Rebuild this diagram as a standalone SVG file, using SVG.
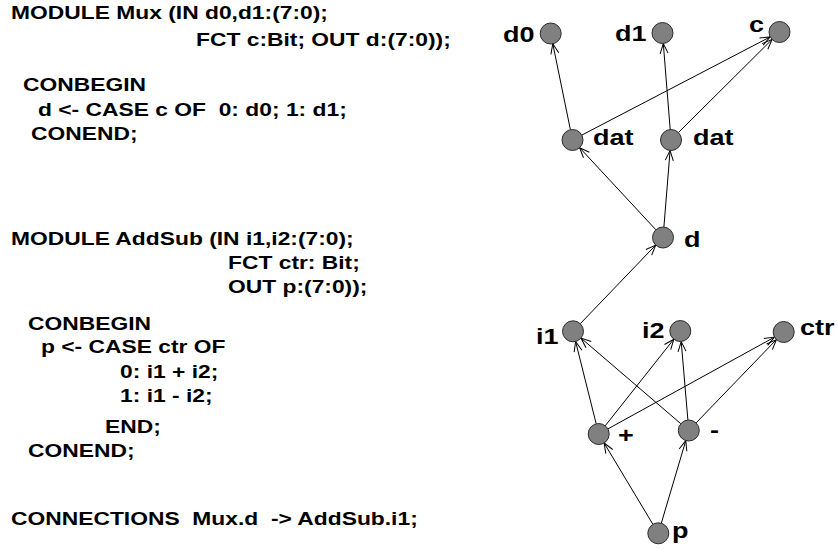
<svg xmlns="http://www.w3.org/2000/svg" width="838" height="550" viewBox="0 0 838 550">
  <style>
    .code { font-family: "Liberation Sans", Arial, sans-serif; font-weight: bold; font-size: 17.5px; fill: #000; white-space: pre; }
    .lbl { font-family: "Liberation Sans", Arial, sans-serif; font-weight: bold; font-size: 22.5px; fill: #000; }
    .node circle { fill: #808080; stroke: #2a2a2a; stroke-width: 1; }
    .edge { stroke: #000; stroke-width: 1; fill: none; marker-end: url(#arrow); }
  </style>
  <defs>
    <marker id="arrow" markerUnits="userSpaceOnUse" markerWidth="12" markerHeight="10" refX="10" refY="4" orient="auto" overflow="visible">
      <path d="M0,0 L10,4 L0,8" fill="none" stroke="#000" stroke-width="1"/>
    </marker>
  </defs>
  <rect width="838" height="550" fill="#fff"/>

  <!-- source text: module Mux -->
  <g id="code-mux">
    <text class="code" transform="translate(11,19) scale(1.305,1)" xml:space="preserve">MODULE Mux (IN d0,d1:(7:0);</text>
    <text class="code" transform="translate(196,46) scale(1.305,1)" xml:space="preserve">FCT c:Bit; OUT d:(7:0));</text>
    <text class="code" transform="translate(23,91) scale(1.305,1)" xml:space="preserve">CONBEGIN</text>
    <text class="code" transform="translate(38,116) scale(1.305,1)" xml:space="preserve">d &lt;- CASE c OF  0: d0; 1: d1;</text>
    <text class="code" transform="translate(31,140) scale(1.305,1)" xml:space="preserve">CONEND;</text>
  </g>

  <!-- source text: module AddSub -->
  <g id="code-addsub">
    <text class="code" transform="translate(11,245) scale(1.305,1)" xml:space="preserve">MODULE AddSub (IN i1,i2:(7:0);</text>
    <text class="code" transform="translate(228,269) scale(1.305,1)" xml:space="preserve">FCT ctr: Bit;</text>
    <text class="code" transform="translate(228,293) scale(1.305,1)" xml:space="preserve">OUT p:(7:0));</text>
    <text class="code" transform="translate(28,330) scale(1.305,1)" xml:space="preserve">CONBEGIN</text>
    <text class="code" transform="translate(41,353) scale(1.305,1)" xml:space="preserve">p &lt;- CASE ctr OF</text>
    <text class="code" transform="translate(120,378) scale(1.305,1)" xml:space="preserve">0: i1 + i2;</text>
    <text class="code" transform="translate(120,402) scale(1.305,1)" xml:space="preserve">1: i1 - i2;</text>
    <text class="code" transform="translate(105,433) scale(1.305,1)" xml:space="preserve">END;</text>
    <text class="code" transform="translate(28,457) scale(1.305,1)" xml:space="preserve">CONEND;</text>
  </g>

  <g id="code-connections">
    <text class="code" transform="translate(11,525) scale(1.305,1)" xml:space="preserve">CONNECTIONS  Mux.d  -&gt; AddSub.i1;</text>
  </g>

  <!-- dependency edges -->
  <g id="connectors">
    <line class="edge" x1="570.4" y1="129.7" x2="552.8" y2="43.8"/>
    <line class="edge" x1="581.8" y1="135.1" x2="770.2" y2="36.9"/>
    <line class="edge" x1="670.2" y1="129.5" x2="663.3" y2="43.5"/>
    <line class="edge" x1="678.4" y1="132.6" x2="772.1" y2="39.4"/>
    <line class="edge" x1="655.9" y1="229.8" x2="579.6" y2="147.7"/>
    <line class="edge" x1="663.9" y1="227.0" x2="670.1" y2="150.5"/>
    <line class="edge" x1="580.3" y1="323.7" x2="655.7" y2="245.1"/>
    <line class="edge" x1="596.2" y1="423.8" x2="575.6" y2="341.5"/>
    <line class="edge" x1="605.2" y1="425.8" x2="673.8" y2="339.2"/>
    <line class="edge" x1="607.9" y1="428.9" x2="774.5" y2="337.1"/>
    <line class="edge" x1="680.8" y1="423.7" x2="581.0" y2="338.1"/>
    <line class="edge" x1="687.9" y1="420.0" x2="681.2" y2="341.5"/>
    <line class="edge" x1="696.1" y1="422.9" x2="776.4" y2="339.6"/>
    <line class="edge" x1="652.9" y1="524.3" x2="604.1" y2="443.0"/>
    <line class="edge" x1="661.3" y1="523.2" x2="685.8" y2="440.6"/>
  </g>

  <!-- graph nodes -->
  <g id="n-d0" class="node">
    <circle cx="550.7" cy="33.5" r="10.5"/>
    <text class="lbl" transform="translate(503,42) scale(1.2,1)">d0</text>
  </g>
  <g id="n-d1" class="node">
    <circle cx="662.5" cy="33" r="10.5"/>
    <text class="lbl" transform="translate(615,41) scale(1.2,1)">d1</text>
  </g>
  <g id="n-c" class="node">
    <circle cx="779.5" cy="32" r="10.5"/>
    <text class="lbl" transform="translate(749,32) scale(1.2,1)">c</text>
  </g>
  <g id="n-dat0" class="node">
    <circle cx="572.5" cy="140" r="10.5"/>
    <text class="lbl" transform="translate(593,145) scale(1.2,1)">dat</text>
  </g>
  <g id="n-dat1" class="node">
    <circle cx="671" cy="140" r="10.5"/>
    <text class="lbl" transform="translate(693,145) scale(1.2,1)">dat</text>
  </g>
  <g id="n-d" class="node">
    <circle cx="663" cy="237.5" r="10.5"/>
    <text class="lbl" transform="translate(684,247) scale(1.2,1)">d</text>
  </g>
  <g id="n-i1" class="node">
    <circle cx="573" cy="331.3" r="10.5"/>
    <text class="lbl" transform="translate(536,344) scale(1.2,1)">i1</text>
  </g>
  <g id="n-i2" class="node">
    <circle cx="680.3" cy="331" r="10.5"/>
    <text class="lbl" transform="translate(642,338) scale(1.2,1)">i2</text>
  </g>
  <g id="n-ctr" class="node">
    <circle cx="783.7" cy="332" r="10.5"/>
    <text class="lbl" transform="translate(800,335) scale(1.2,1)">ctr</text>
  </g>
  <g id="n-plus" class="node">
    <circle cx="598.7" cy="434" r="10.5"/>
    <text class="lbl" transform="translate(618,443) scale(1.2,1)">+</text>
  </g>
  <g id="n-minus" class="node">
    <circle cx="688.8" cy="430.5" r="10.5"/>
    <text class="lbl" transform="translate(710,437) scale(1.2,1)">-</text>
  </g>
  <g id="n-p" class="node">
    <circle cx="658.3" cy="533.3" r="10.5"/>
    <text class="lbl" transform="translate(672,538) scale(1.2,1)">p</text>
  </g>
</svg>
